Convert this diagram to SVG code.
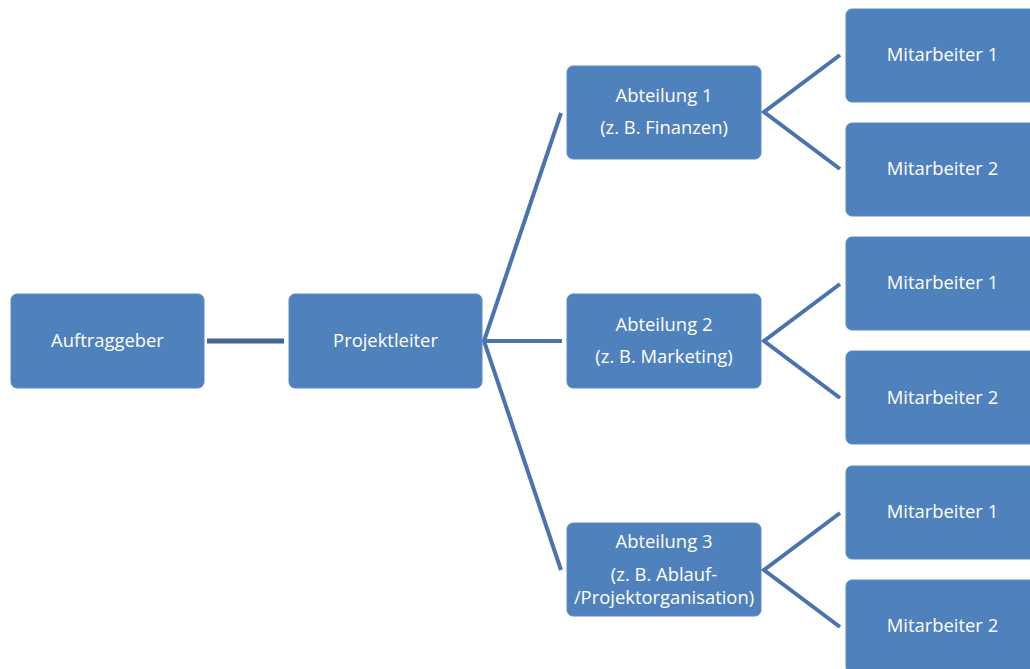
<svg xmlns="http://www.w3.org/2000/svg" width="1030" height="669" viewBox="0 0 1030 669">
<style>
.box{fill:#4f81bd;stroke:#5b8ac4;stroke-width:1}
.t{font-family:"Open Sans","Liberation Sans",sans-serif;font-size:18.4px;fill:#ffffff;text-anchor:middle}
.c{stroke:#4a74ad;stroke-width:4;fill:none;stroke-linejoin:miter}
.c0{stroke:#41679a;stroke-width:5;fill:none}
</style>
<rect width="1030" height="669" fill="#ffffff"/>
<g id="connectors">
<line class="c0" x1="207" y1="341" x2="284" y2="341"/>
<polyline class="c" points="561,113 484,341 561,570"/>
<line class="c" x1="484" y1="341" x2="562" y2="341"/>
<polyline class="c" points="840,55 764,112 840,169"/>
<polyline class="c" points="840,284 764,341 840,398"/>
<polyline class="c" points="840,513 764,570 840,627"/>
</g>
<g id="auftraggeber"><rect class="box" x="11" y="294" width="193" height="94" rx="6"/><text class="t" x="107.5" y="347">Auftraggeber</text></g>
<g id="projektleiter"><rect class="box" x="289" y="294" width="193" height="94" rx="6"/><text class="t" x="385.5" y="347">Projektleiter</text></g>
<g id="abteilung1"><rect class="box" x="567" y="66" width="194" height="93" rx="6"/><text class="t" x="664" y="102">Abteilung 1</text><text class="t" x="664" y="134">(z. B. Finanzen)</text></g>
<g id="abteilung2"><rect class="box" x="567" y="294" width="194" height="94" rx="6"/><text class="t" x="664" y="331">Abteilung 2</text><text class="t" x="664" y="363">(z. B. Marketing)</text></g>
<g id="abteilung3"><rect class="box" x="567" y="523" width="194" height="93" rx="6"/><text class="t" x="664" y="548">Abteilung 3</text><text class="t" x="664" y="581">(z. B. Ablauf-</text><text class="t" x="664" y="604">/Projektorganisation)</text></g>
<g id="m11"><rect class="box" x="846" y="9" width="193" height="93" rx="6"/><text class="t" x="942.5" y="61">Mitarbeiter 1</text></g>
<g id="m12"><rect class="box" x="846" y="123" width="193" height="93" rx="6"/><text class="t" x="942.5" y="175">Mitarbeiter 2</text></g>
<g id="m21"><rect class="box" x="846" y="237" width="193" height="93" rx="6"/><text class="t" x="942.5" y="289">Mitarbeiter 1</text></g>
<g id="m22"><rect class="box" x="846" y="351" width="193" height="93" rx="6"/><text class="t" x="942.5" y="404">Mitarbeiter 2</text></g>
<g id="m31"><rect class="box" x="846" y="466" width="193" height="93" rx="6"/><text class="t" x="942.5" y="518">Mitarbeiter 1</text></g>
<g id="m32"><rect class="box" x="846" y="580" width="193" height="93" rx="6"/><text class="t" x="942.5" y="632">Mitarbeiter 2</text></g>
</svg>
